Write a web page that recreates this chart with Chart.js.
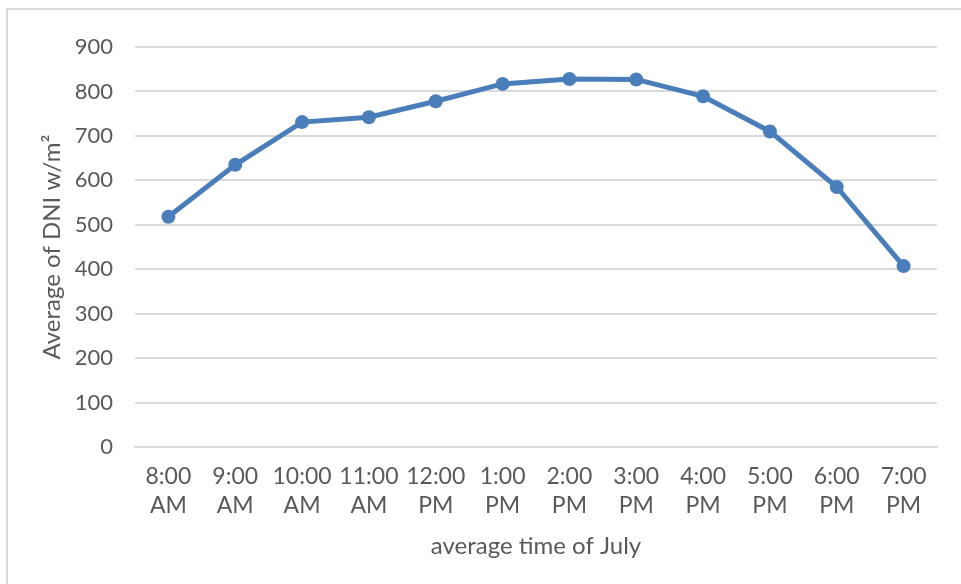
<!DOCTYPE html>
<html>
<head>
<meta charset="utf-8">
<script src="https://cdn.jsdelivr.net/npm/chart.js@4/dist/chart.umd.min.js"></script>
<style>
  html, body { margin: 0; padding: 0; background: #ffffff; overflow: hidden; }
  #frame {
    position: absolute; left: 6px; top: 8px; width: 1000px; height: 700px;
    border: 2px solid #d9d9d9; box-sizing: border-box;
  }
  #wrap { position: absolute; left: 0; top: 0; width: 961px; height: 584px; }
</style>
</head>
<body>
<div id="frame"></div>
<div id="wrap"><canvas id="chart" width="961" height="584"></canvas></div>
<script>
// Hourly averages of direct normal irradiance for July
const timeLabels = [
  ['8:00', 'AM'], ['9:00', 'AM'], ['10:00', 'AM'], ['11:00', 'AM'],
  ['12:00', 'PM'], ['1:00', 'PM'], ['2:00', 'PM'], ['3:00', 'PM'],
  ['4:00', 'PM'], ['5:00', 'PM'], ['6:00', 'PM'], ['7:00', 'PM']
];
const dniAverage = [518, 635, 731, 742, 778, 817, 828, 827, 789, 710, 585, 407];
const yTicks = [0, 100, 200, 300, 400, 500, 600, 700, 800, 900];

const textColor = '#595959';
const gridColor = '#d9d9d9';
const lineColor = '#4a7ebb';
const fontFamily = 'Lato, "Open Sans", sans-serif';

new Chart(document.getElementById('chart'), {
  type: 'line',
  data: {
    labels: timeLabels,
    datasets: [{
      label: 'Average of DNI w/m²',
      data: dniAverage,
      borderColor: lineColor,
      backgroundColor: lineColor,
      borderWidth: 5,
      pointRadius: 7,
      pointHoverRadius: 7,
      pointBorderWidth: 0,
      tension: 0,
      fill: false
    }]
  },
  options: {
    responsive: false,
    animation: false,
    devicePixelRatio: 1,
    layout: { padding: { top: 47, right: 24, bottom: 0, left: 0 } },
    plugins: {
      legend: { display: false },
      tooltip: { enabled: false }
    },
    scales: {
      x: {
        type: 'category',
        offset: true,
        grid: { display: false, drawTicks: false },
        border: { display: true, color: gridColor, width: 2 },
        ticks: {
          color: textColor,
          font: { family: fontFamily, size: 23, lineHeight: 1.26 },
          padding: 15,
          maxRotation: 0,
          autoSkip: false
        },
        title: {
          display: true,
          text: 'average time of July',
          color: textColor,
          font: { family: fontFamily, size: 24 },
          padding: { top: 10, bottom: 23 }
        },
        afterFit: (scale) => { scale.height = 137; }
      },
      y: {
        min: 0,
        max: 900,
        afterBuildTicks: (scale) => { scale.ticks = yTicks.map(v => ({ value: v })); },
        grid: { color: gridColor, lineWidth: 2, drawTicks: false },
        border: { display: false },
        ticks: {
          color: textColor,
          font: { family: fontFamily, size: 22 },
          padding: 22
        },
        title: {
          display: true,
          text: 'Average of DNI w/m²',
          color: textColor,
          font: { family: fontFamily, size: 24 },
          padding: { top: 38, bottom: 0 }
        },
        afterFit: (scale) => { scale.width = 135; }
      }
    }
  }
});
</script>
</body>
</html>
